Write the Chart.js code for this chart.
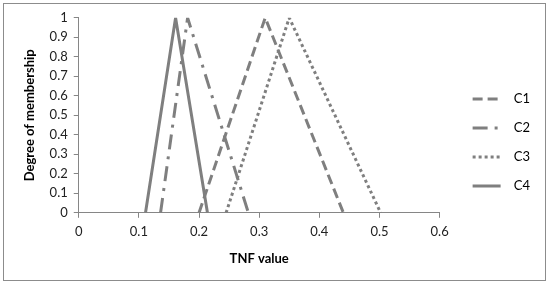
<!DOCTYPE html>
<html>
<head>
<meta charset="utf-8">
<script src="https://cdn.jsdelivr.net/npm/chart.js@4"></script>
<style>
  body { margin: 0; background: #fff; }
  #box {
    position: absolute; left: 3px; top: 3px;
    width: 541px; height: 276px;
    border: 1px solid #8c8c8c;
  }
</style>
</head>
<body>
<div id="box"><canvas id="chart"></canvas></div>
<script>
// Triangular membership functions: x points and membership degrees
var seriesNames = ["C1", "C2", "C3", "C4"];
var c1X = [0.2, 0.31, 0.44];
var c2X = [0.136, 0.181, 0.282];
var c3X = [0.245, 0.35, 0.502];
var c4X = [0.111, 0.161, 0.214];
var membership = [0, 1, 0];
var xTicks = [0, 0.1, 0.2, 0.3, 0.4, 0.5, 0.6];
var yTicks = [0, 0.1, 0.2, 0.3, 0.4, 0.5, 0.6, 0.7, 0.8, 0.9, 1];

var grey = "#7f7f7f";
var font = "Lato, 'Liberation Sans', sans-serif";

function toPoints(xs) {
  return xs.map(function (x, i) { return { x: x, y: membership[i] }; });
}

var dashes = [[10, 5], [15, 7, 3, 7], [3, 3], []];
var allX = [c1X, c2X, c3X, c4X];

var datasets = seriesNames.map(function (name, i) {
  return {
    label: name,
    data: toPoints(allX[i]),
    showLine: true,
    borderColor: grey,
    backgroundColor: grey,
    borderWidth: 3,
    borderDash: dashes[i],
    pointRadius: 0,
    tension: 0,
  };
});

function tickText(v) {
  return String(+v.toFixed(1));
}

var ctx = document.getElementById("chart").getContext("2d");
var chart = new Chart(ctx, {
  type: "scatter",
  data: { datasets: datasets },
  options: {
    responsive: true,
    maintainAspectRatio: false,
    animation: false,
    layout: { padding: { top: 10, right: 5, left: 14, bottom: 9 } },
    plugins: {
      tooltip: { enabled: false },
      legend: {
        position: "right",
        labels: {
          usePointStyle: true,
          pointStyle: "line",
          pointStyleWidth: 28,
          boxHeight: 12,
          padding: 16,
          color: "#000",
          font: { family: font, size: 13 },
          // keep the dash pattern of each series in its legend line
          generateLabels: function (chart) {
            return chart.data.datasets.map(function (ds, i) {
              return {
                text: "  " + ds.label,
                fillStyle: grey,
                strokeStyle: grey,
                fontColor: "#000",
                lineWidth: 3,
                lineDash: ds.borderDash,
                pointStyle: "line",
                hidden: false,
                datasetIndex: i,
              };
            });
          },
        },
      },
    },
    scales: {
      x: {
        type: "linear",
        min: 0,
        max: 0.6,
        afterBuildTicks: function (s) { s.ticks = xTicks.map(function (v) { return { value: v }; }); },
        grid: { drawOnChartArea: false, drawTicks: true, tickLength: 5, color: "#868686" },
        border: { color: "#868686" },
        ticks: { color: "#222", font: { family: font, size: 13 }, padding: 6, callback: tickText },
        title: { display: true, text: "TNF value", color: "#000", font: { family: font, size: 13, weight: "bold" }, padding: { top: 6 } },
      },
      y: {
        type: "linear",
        min: 0,
        max: 1,
        afterBuildTicks: function (s) { s.ticks = yTicks.map(function (v) { return { value: v }; }); },
        grid: { drawOnChartArea: false, drawTicks: true, tickLength: 5, color: "#868686" },
        border: { color: "#868686" },
        ticks: { color: "#222", font: { family: font, size: 13 }, padding: 6, callback: tickText },
        title: { display: true, text: "Degree of membership", color: "#000", font: { family: font, size: 13, weight: "bold" }, padding: { bottom: 6 } },
      },
      gap: {
        type: "linear",
        position: "right",
        display: true,
        grid: { display: false },
        border: { display: false },
        ticks: { display: false },
        afterFit: function (s) { s.width = 17; },
      },
    },
  },
});
</script>
</body>
</html>
